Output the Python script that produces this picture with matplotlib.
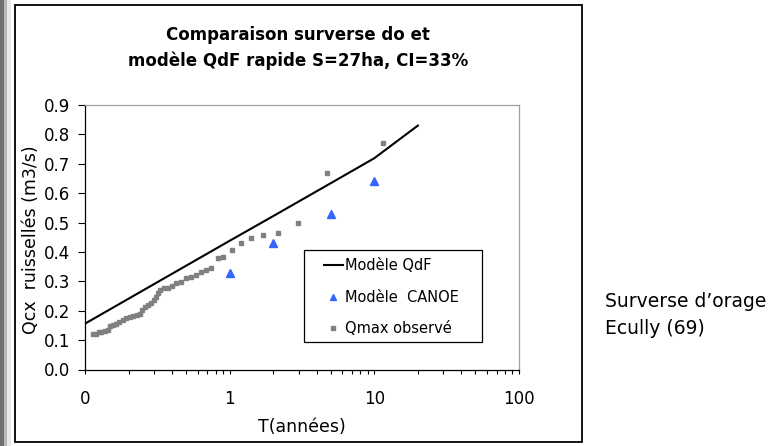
import matplotlib
matplotlib.use("Agg")
import matplotlib.pyplot as plt
from matplotlib.patches import Rectangle

plt.rcParams['font.family'] = ['DejaVu Sans']

# Data
T_qdf = [0.1, 1, 2, 5, 10, 20]
Q_qdf = [0.156, 0.438, 0.522, 0.634, 0.719, 0.830]

T_canoe = [1, 2, 5, 10]
Q_canoe = [0.33, 0.43, 0.53, 0.64]

T_obs = [0.114, 0.120, 0.125, 0.130, 0.137, 0.145, 0.150, 0.157, 0.164, 0.172,
         0.182, 0.192, 0.204, 0.215, 0.227, 0.239, 0.246, 0.259, 0.273, 0.288,
         0.300, 0.309, 0.320, 0.332, 0.351, 0.376, 0.402, 0.429, 0.464, 0.502,
         0.544, 0.583, 0.632, 0.682, 0.742, 0.826, 0.903, 1.03, 1.19, 1.40,
         1.70, 2.16, 2.96, 4.72, 11.5]
Q_obs = [0.122, 0.122, 0.127, 0.129, 0.131, 0.135, 0.147, 0.152, 0.156, 0.161,
         0.170, 0.175, 0.177, 0.181, 0.186, 0.190, 0.204, 0.213, 0.218, 0.227,
         0.236, 0.247, 0.262, 0.270, 0.279, 0.279, 0.283, 0.293, 0.297, 0.311,
         0.315, 0.320, 0.332, 0.338, 0.346, 0.378, 0.383, 0.407, 0.431, 0.446,
         0.457, 0.465, 0.497, 0.667, 0.769]

x_ticks = [0.1, 1, 10, 100]
x_ticklabels = ["0", "1", "10", "100"]
y_ticks = [0.0, 0.1, 0.2, 0.3, 0.4, 0.5, 0.6, 0.7, 0.8, 0.9]

W, H = 784, 446
fig = plt.figure(figsize=(W / 100, H / 100), dpi=100)

# left gray stripe
fig.patches.append(Rectangle((0, 0), 4 / W, 1, transform=fig.transFigure,
                             facecolor='#707070', edgecolor='none', zorder=0))
fig.patches.append(Rectangle((4 / W, 0), 3 / W, 1, transform=fig.transFigure,
                             facecolor='#b8b8b8', edgecolor='none', zorder=0))
fig.patches.append(Rectangle((7 / W, 0), 4 / W, 1, transform=fig.transFigure,
                             facecolor='#e8e8e8', edgecolor='none', zorder=0))
# outer frame
fig.patches.append(Rectangle((15 / W, 1 - 442 / H), (582 - 15) / W, (442 - 5) / H,
                             transform=fig.transFigure, facecolor='white',
                             edgecolor='black', linewidth=1.3, zorder=0))

left, right, top, bottom = 85, 519, 105, 369.5
ax = fig.add_axes([left / W, 1 - bottom / H, (right - left) / W, (bottom - top) / H])
ax.set_zorder(2)
ax.set_xscale('log')
ax.set_xlim(0.1, 100)
ax.set_ylim(0, 0.9)

ax.plot(T_qdf, Q_qdf, color='black', linewidth=1.5, label='Modèle QdF', zorder=3)
ax.plot(T_canoe, Q_canoe, linestyle='none', marker='^', markersize=6.2,
        color='#3366ff', label='Modèle  CANOE', zorder=4)
ax.plot(T_obs, Q_obs, linestyle='none', marker='s', markersize=3.2,
        color='#808080', label='Qmax observé', zorder=3)

ax.set_xticks(x_ticks)
ax.set_xticklabels(x_ticklabels)
ax.set_yticks(y_ticks)
ax.set_yticklabels([f"{v:.1f}" for v in y_ticks])
ax.tick_params(axis='x', which='both', direction='out', length=3, width=0.8,
               labelsize=12, pad=11.5)
ax.tick_params(axis='x', which='minor', labelbottom=False)
ax.tick_params(axis='y', direction='out', length=5, width=0.8, labelsize=12, pad=5.5)

for s in ['left', 'bottom']:
    ax.spines[s].set_color('black')
    ax.spines[s].set_linewidth(0.9)
for s in ['top', 'right']:
    ax.spines[s].set_color('#a0a0a0')
    ax.spines[s].set_linewidth(0.9)

ax.set_xlabel('T(années)', fontsize=12.5)
ax.xaxis.set_label_coords(0.5, -0.183)
ax.set_ylabel('Qcx  ruissellés (m3/s)', fontsize=12.5)
ax.yaxis.set_label_coords(-0.1037, 0.49)

# legend box (drawn inside the axes, below the legend entries)
box = Rectangle((304 / W, 1 - 342 / H), (482 - 304) / W, (342 - 250) / H,
                transform=fig.transFigure, facecolor='white',
                edgecolor='black', linewidth=0.9, zorder=4.5, clip_on=False)
ax.add_artist(box)
leg = ax.legend(loc='upper left', bbox_to_anchor=(324 / W, 1 - 258.5 / H),
                bbox_transform=fig.transFigure, borderaxespad=0, borderpad=0,
                fontsize=10.5, frameon=False,
                handlelength=1.3, handletextpad=0.15, labelspacing=1.12,
                markerscale=0.8)
leg.set_zorder(6)

fig.text(298 / W, 1 - 40 / H, 'Comparaison surverse do et', ha='center', va='baseline',
         fontsize=12, fontweight='bold')
fig.text(298 / W, 1 - 65.7 / H, 'modèle QdF rapide S=27ha, CI=33%', ha='center',
         va='baseline', fontsize=12, fontweight='bold')

fig.text(605 / W, 1 - 307 / H, 'Surverse d\u2019orage', ha='left', va='baseline', fontsize=13.5)
fig.text(605 / W, 1 - 334 / H, 'Ecully (69)', ha='left', va='baseline', fontsize=13.5)

fig.savefig('out.png', dpi=100)
